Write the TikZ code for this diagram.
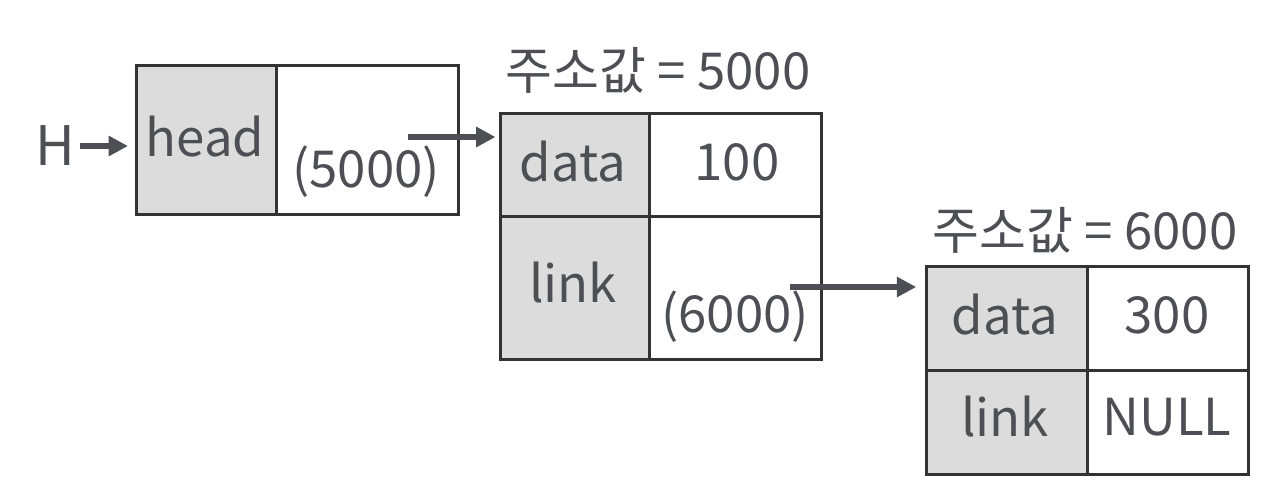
\documentclass[tikz,border=0pt]{standalone}
\usepackage{fontspec}
\setmainfont{Noto Sans CJK KR}
\usepackage{tikz}
\usetikzlibrary{arrows.meta}
\definecolor{cellgray}{HTML}{DCDCDC}
\definecolor{inkgray}{HTML}{4E4F55}
\definecolor{edgegray}{HTML}{333333}
\newcommand{\cell}[5]{\node[#1, minimum width=#3cm, minimum height=#4cm] (#2) at (#5) {};}

\begin{document}
\begin{tikzpicture}[x=0.02cm,y=-0.02cm,
    key/.style={draw=edgegray, line width=1.5pt, fill=cellgray, anchor=north west, inner sep=0pt},
    val/.style={draw=edgegray, line width=1.5pt, fill=white, anchor=north west, inner sep=0pt},
    txt/.style={text=inkgray, font=\fontsize{29}{34}\selectfont, inner sep=0pt},
    ptr/.style={draw=inkgray, line width=2.9pt, -{Triangle[length=11pt,width=11pt]}}]
    \useasboundingbox (0,0) rectangle (1276,498);

    % head
    \cell{key}{hkey}{2.8}{2.98}{135,64}
    \cell{val}{hval}{3.64}{2.98}{275,64}
    \node[txt] (htxt) at (205,137) {head};
    \node[txt] (haddr) at (366,172) {(5000)};
    \node[txt, font=\fontsize{31}{36}\selectfont] (H) at (55,146) {H};

    % first node
    \node[txt] (lab1) at (658,70) {주소값 = 5000};
    \cell{key}{akey}{2.98}{2.06}{499,112}
    \cell{val}{aval}{3.44}{2.06}{648,112}
    \cell{key}{alkey}{2.98}{2.86}{499,215}
    \cell{val}{alval}{3.44}{2.86}{648,215}
    \node[txt] (adata) at (573,162) {data};
    \node[txt] (anum) at (737,162) {100};
    \node[txt] (alink) at (573,283) {link};
    \node[txt] (aaddr) at (735,317) {(6000)};

    % second node
    \node[txt] (lab2) at (1085,230) {주소값 = 6000};
    \cell{key}{bkey}{3.22}{2.08}{925,265}
    \cell{val}{bval}{3.22}{2.08}{1086,265}
    \cell{key}{blkey}{3.22}{2.08}{925,369}
    \cell{val}{blval}{3.22}{2.08}{1086,369}
    \node[txt] (bdata) at (1005,315) {data};
    \node[txt] (bnum) at (1167,315) {300};
    \node[txt] (blink) at (1005,417) {link};
    \node[txt] (bnull) at (1167,417) {NULL};

    % pointers
    \coordinate (p0) at (80,146);
    \coordinate (p1) at (408,137);
    \coordinate (p2) at (790,287);
    \draw[ptr] (p0) -- ([xshift=-4]p0 -| hkey.west);
    \draw[ptr] (p1) -- ([xshift=-2]p1 -| akey.west);
    \draw[ptr] (p2) -- ([xshift=-5]p2 -| bkey.west);
\end{tikzpicture}
\end{document}
